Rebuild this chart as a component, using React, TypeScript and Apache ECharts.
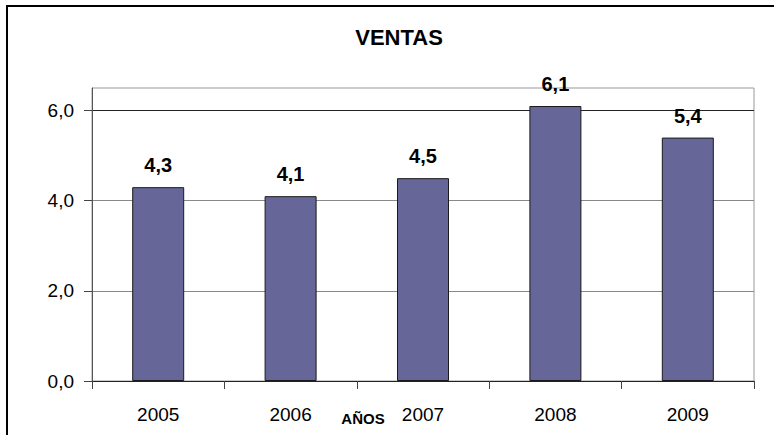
import React, { useEffect, useRef } from "react";
import * as echarts from "echarts";

const categories = ["2005", "2006", "2007", "2008", "2009"];
const ventas = [4.3, 4.1, 4.5, 6.1, 5.4];
const yTicks = [0, 2, 4, 6];
const titleText = "VENTAS";
const xAxisTitle = "AÑOS";

const FONT = "'Liberation Sans', Arial, Helvetica, sans-serif";
const fmt = (v: number) => v.toFixed(1).replace(".", ",");

export default function App() {
  const ref = useRef<HTMLDivElement>(null);
  useEffect(() => {
    document.body.style.margin = "0";
    if (!ref.current) return;
    const chart = echarts.init(ref.current, undefined, { renderer: "svg" });
    chart.setOption({
      animation: false,
      backgroundColor: "#ffffff",
      grid: {
        left: 92,
        right: 20,
        top: 88,
        bottom: 54,
        show: true,
        borderColor: "#999999",
        borderWidth: 1,
        backgroundColor: "transparent",
      },
      graphic: [
        {
          type: "rect",
          shape: { x: 7, y: 6, width: 800, height: 500 },
          style: { fill: "none", stroke: "#000000", lineWidth: 2 },
          silent: true,
        },
        {
          type: "text",
          x: 399,
          y: 37,
          style: {
            text: titleText,
            font: `bold 22px ${FONT}`,
            fill: "#000000",
            textAlign: "center",
            textVerticalAlign: "middle",
          },
        },
        {
          type: "text",
          x: 363,
          y: 418,
          style: {
            text: xAxisTitle,
            font: `bold 15px ${FONT}`,
            fill: "#000000",
            textAlign: "center",
            textVerticalAlign: "middle",
          },
        },
      ],
      xAxis: {
        type: "category",
        data: categories,
        boundaryGap: true,
        axisLine: { show: true, lineStyle: { color: "#222222", width: 1 } },
        axisTick: { show: true, length: 8, alignWithLabel: false, lineStyle: { color: "#444444" } },
        axisLabel: {
          margin: 24,
          fontSize: 19,
          fontFamily: FONT,
          color: "#000000",
        },
        splitLine: { show: false },
      },
      yAxis: {
        type: "value",
        min: 0,
        max: 6.5,
        interval: 2,
        axisLine: { show: true, lineStyle: { color: "#555555", width: 1 } },
        axisTick: {
          show: true,
          length: 8,
          customValues: yTicks,
          lineStyle: { color: "#444444" },
        },
        axisLabel: {
          customValues: yTicks,
          margin: 18,
          fontSize: 19,
          fontFamily: FONT,
          color: "#000000",
          formatter: (v: number) => (yTicks.includes(v) ? fmt(v) : ""),
        },
        splitLine: {
          show: true,
          lineStyle: { color: ["#222222", "#888888", "#888888", "#222222", "#999999"], width: 1 },
        },
      },
      series: [
        {
          type: "bar",
          data: ventas,
          barWidth: 52,
          itemStyle: { color: "#666699", borderColor: "#1a1a1a", borderWidth: 1 },
          label: {
            show: true,
            position: "top",
            distance: 12,
            fontSize: 20,
            fontWeight: "bold",
            fontFamily: FONT,
            color: "#000000",
            formatter: (p: any) => fmt(p.value),
          },
        },
      ],
    });
    return () => chart.dispose();
  }, []);
  return <div ref={ref} style={{ width: 774, height: 435 }} />;
}
